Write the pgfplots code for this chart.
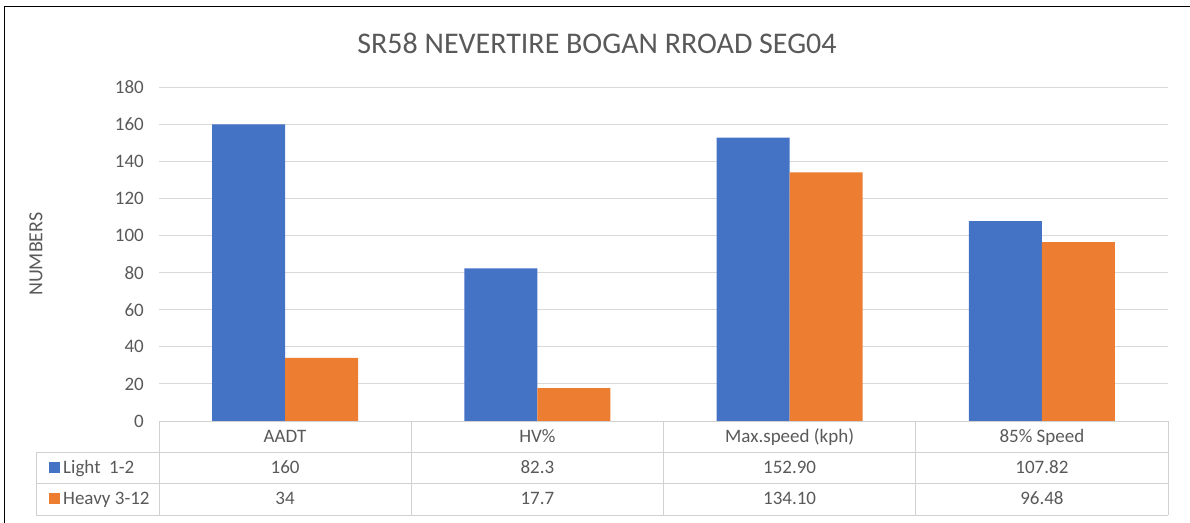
\documentclass[border=0pt]{standalone}
\usepackage{pgfplots}
\pgfplotsset{compat=1.18}
\usepackage{fontspec}
\setmainfont{Carlito}
\definecolor{cblue}{HTML}{4472C4}
\definecolor{corange}{HTML}{ED7D31}
\definecolor{ctext}{HTML}{595959}
\definecolor{cgrid}{HTML}{D9D9D9}
\definecolor{ctab}{HTML}{D0D0D0}
\newcommand{\tf}{\fontsize{19bp}{23bp}\selectfont}
\begin{document}
\begin{tikzpicture}[x=1bp,y=1bp]
\useasboundingbox (0,0) rectangle (1190,523);
% outer frame (left and top visible)
\draw[black,line width=1.4bp] (4.5,0) -- (4.5,516.5) -- (1190,516.5);
\begin{axis}[
  at={(159bp,102bp)}, anchor=south west,
  scale only axis, width=1009bp, height=333.7bp,
  xmin=-0.5, xmax=3.5, ymin=0, ymax=180,
  xtick=\empty,
  ytick={0,20,...,180},
  ymajorgrids, grid style={cgrid, line width=0.9bp},
  axis line style={draw=none},
  major tick length=0pt,
  /pgf/number format/assume math mode=true,
  yticklabel style={font=\tf, text=ctext, inner sep=0pt, xshift=-15bp},
  every axis y label/.style={at={(-123bp,0.5)}, anchor=center, rotate=90, font=\fontsize{20bp}{24bp}\selectfont, text=ctext},
  ylabel={NUMBERS},
  every axis title/.style={at={(438bp,1)}, anchor=base, yshift=34bp, font=\fontsize{30bp}{34bp}\selectfont, text=ctext},
  title={SR58 NEVERTIRE BOGAN RROAD SEG04},
  bar width=73bp,
  clip=false,
]
\addplot[ybar, bar shift=-36.5bp, fill=cblue, draw=none] coordinates {(0,160) (1,82.3) (2,152.90) (3,107.82)};
\addplot[ybar, bar shift=36.5bp, fill=corange, draw=none] coordinates {(0,34) (1,17.7) (2,134.10) (3,96.48)};
\end{axis}
% data table
\begin{scope}[ctab, line width=0.9bp]
\draw (159,102) -- (1168,102);
\draw (36,71) -- (1168,71);
\draw (36,40) -- (1168,40);
\draw (36,8) -- (1168,8);
\draw (36,71) -- (36,8);
\foreach \xx in {159,411.25,663.5,915.75,1168} {\draw (\xx,102) -- (\xx,8);}
\end{scope}
\begin{scope}[every node/.style={font=\tf, text=ctext, inner sep=0pt}]
\foreach \xx/\t in {285.1/AADT, 537.4/HV\%, 789.6/Max.speed (kph), 1041.9/85\% Speed}
  {\node[anchor=base] at (\xx,80) {\t};}
\foreach \xx/\t in {285.1/160, 537.4/82.3, 789.6/152.90, 1041.9/107.82}
  {\node[anchor=base] at (\xx,49) {\t};}
\foreach \xx/\t in {285.1/34, 537.4/17.7, 789.6/134.10, 1041.9/96.48}
  {\node[anchor=base] at (\xx,18) {\t};}
\fill[cblue] (49,50) rectangle (60,61);
\fill[corange] (49,19) rectangle (60,30);
\node[anchor=base west] at (63,49) {Light\ \ 1-2};
\node[anchor=base west] at (63,18) {Heavy 3-12};
\end{scope}
\end{tikzpicture}
\end{document}
